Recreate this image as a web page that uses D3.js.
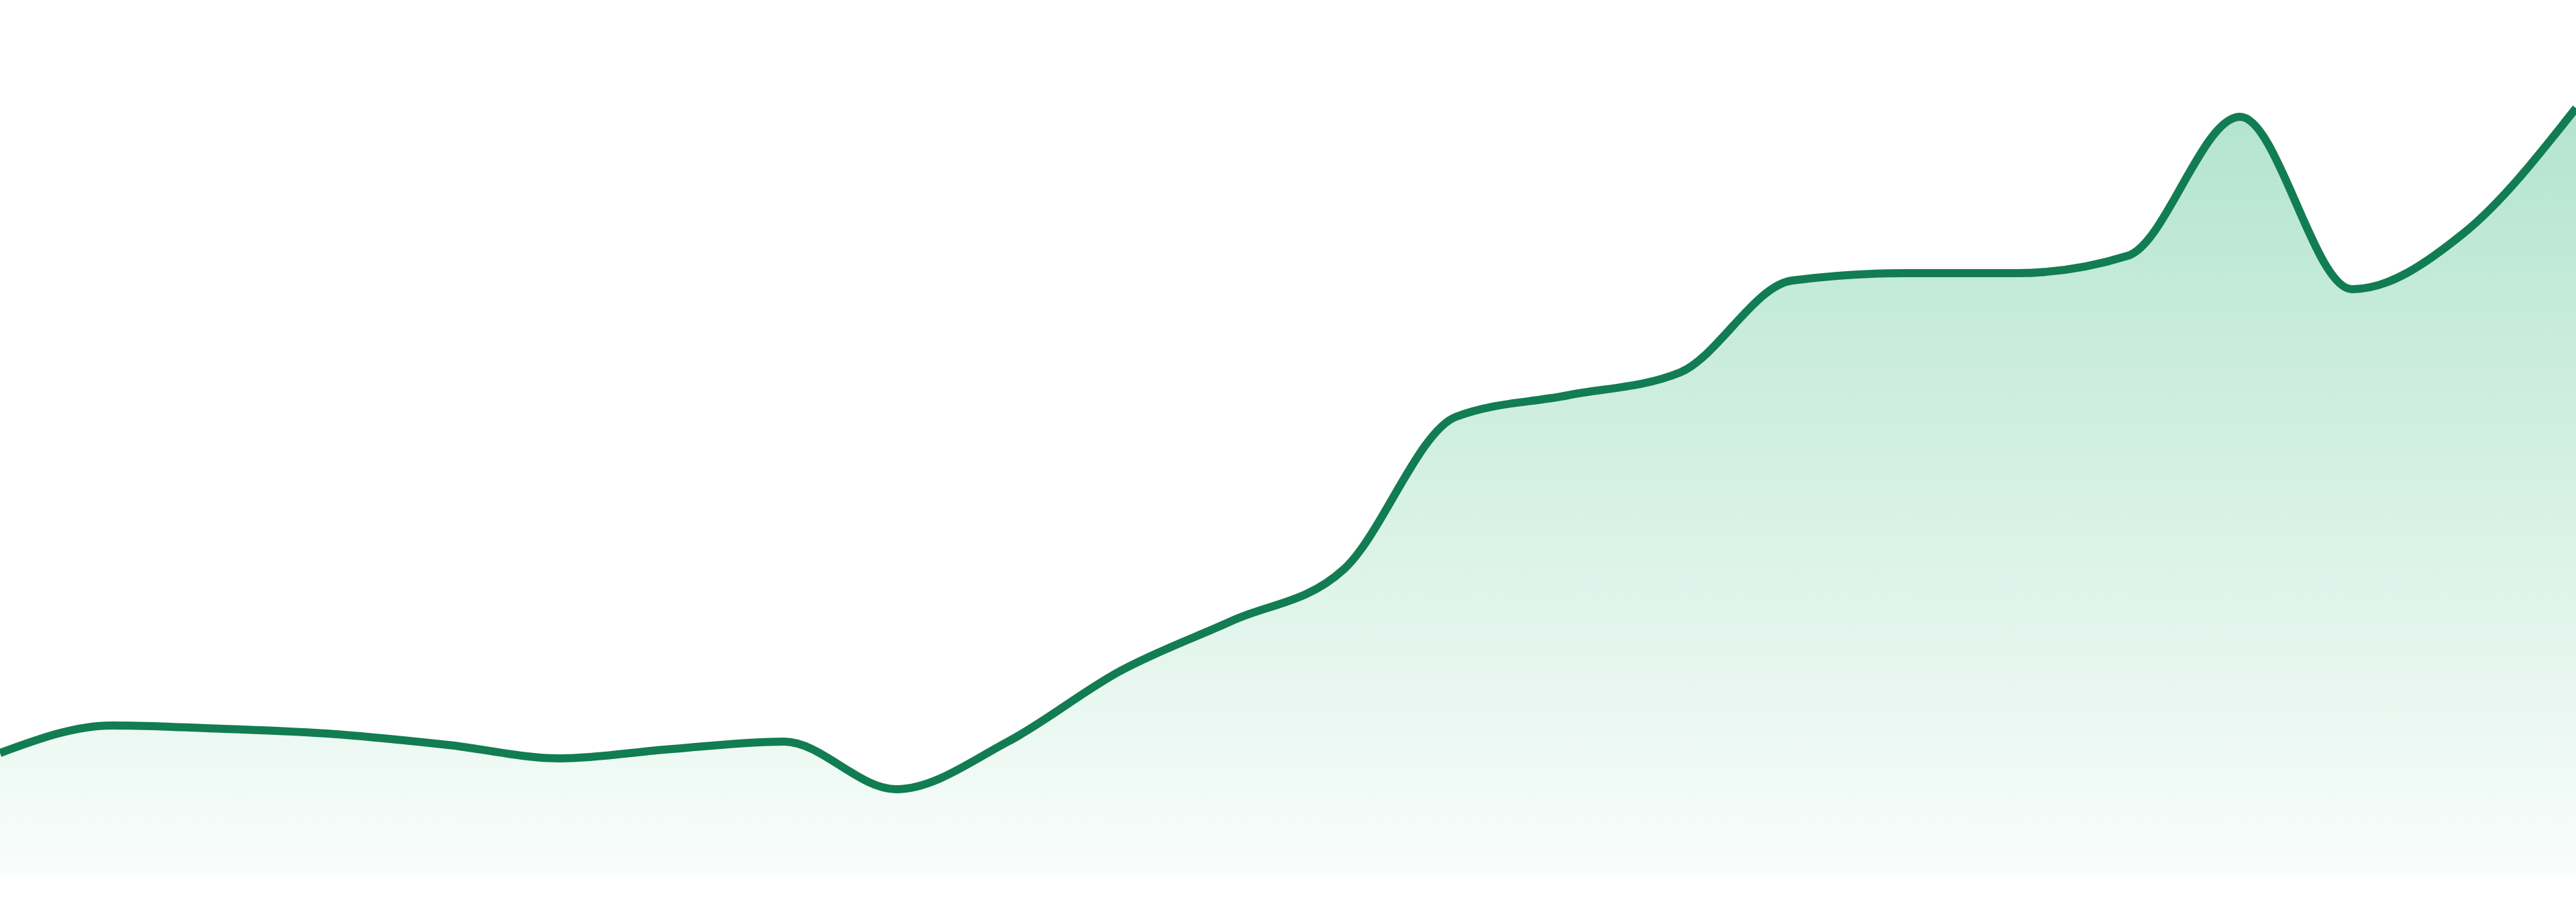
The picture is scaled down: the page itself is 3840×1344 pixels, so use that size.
<!DOCTYPE html>
<html>
<head>
<meta charset="utf-8">
<script src="https://cdn.jsdelivr.net/npm/d3@7"></script>
<style>
  html, body { margin: 0; padding: 0; background: #ffffff; }
  svg { display: block; }
</style>
</head>
<body>
<div class="area-chart"></div>
<script>
'use strict';

// Points along the x axis (no labels are shown in the chart)
const periods = ["01", "02", "03", "04", "05", "06", "07", "08", "09", "10", "11", "12",
                 "13", "14", "15", "16", "17", "18", "19", "20", "21", "22", "23", "24"];

// Series values
const values = [183, 224, 219, 211, 195, 175, 189, 200, 129, 200, 305, 380,
                457, 684, 716, 750, 887, 898, 898, 924, 1131, 874, 958, 1144];

document.addEventListener('DOMContentLoaded', () => {

  // Canvas size
  const width = 3840;
  const height = 1344;
  const margin = {top: 161, left: 0, right: 0, bottom: 39};

  const data = periods.map((p, i) => ({period: p, value: values[i]}));

  const svg = d3.select(".area-chart")
    .append("svg")
    .attr("width", width)
    .attr("height", height);

  // x and y scales
  const xScale = d3.scalePoint()
    .domain(periods)
    .range([margin.left, width - margin.right]);

  const yScale = d3.scaleLinear()
    .domain([0, d3.max(values)])
    .range([height - margin.bottom, margin.top]);

  // vertical fade for the area
  const grad = svg.append("defs")
    .append("linearGradient")
    .attr("id", "fade")
    .attr("gradientUnits", "userSpaceOnUse")
    .attr("x1", 0).attr("x2", 0)
    .attr("y1", yScale(d3.max(values)))
    .attr("y2", yScale(0));
  grad.append("stop").attr("offset", "0%").attr("stop-color", "#b3e4d0");
  grad.append("stop").attr("offset", "100%").attr("stop-color", "#f9fdfb");

  const area = d3.area()
    .x(d => xScale(d.period))
    .y0(yScale(0))
    .y1(d => yScale(d.value))
    .curve(d3.curveMonotoneX);

  const line = d3.line()
    .x(d => xScale(d.period))
    .y(d => yScale(d.value))
    .curve(d3.curveMonotoneX);

  svg.append("path")
    .datum(data)
    .attr("class", "area")
    .attr("fill", "url(#fade)")
    .attr("d", area);

  svg.append("path")
    .datum(data)
    .attr("class", "line")
    .attr("fill", "none")
    .attr("stroke", "#127c53")
    .attr("stroke-width", 12)
    .attr("stroke-linejoin", "round")
    .attr("d", line);
});
</script>
</body>
</html>
